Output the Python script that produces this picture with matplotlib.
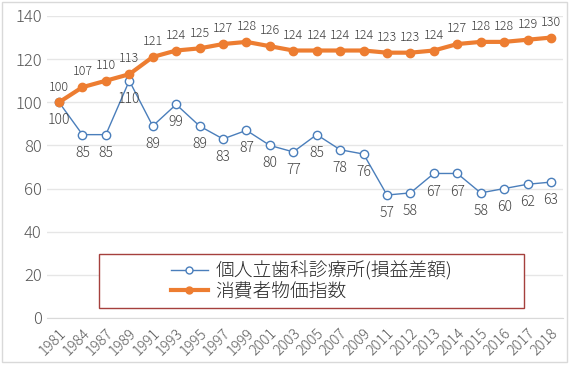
import matplotlib
matplotlib.use("Agg")
import matplotlib.pyplot as plt
from matplotlib.patches import Rectangle
from matplotlib.lines import Line2D

plt.rcParams['font.family'] = ['Noto Sans CJK JP', 'DejaVu Sans']
plt.rcParams['font.weight'] = 'light'

years = ["1981", "1984", "1987", "1989", "1991", "1993", "1995", "1997", "1999", "2001", "2003",
         "2005", "2007", "2009", "2011", "2012", "2013", "2014", "2015", "2016", "2017", "2018"]
dental = [100, 85, 85, 110, 89, 99, 89, 83, 87, 80, 77, 85, 78, 76, 57, 58, 67, 67, 58, 60, 62, 63]
cpi = [100, 107, 110, 113, 121, 124, 125, 127, 128, 126, 124, 124, 124, 124, 123, 123, 124, 127, 128, 128, 129, 130]
series_names = ["個人立歯科診療所(損益差額)", "消費者物価指数"]
yticks = [0, 20, 40, 60, 80, 100, 120, 140]

W, H = 571, 367
fig = plt.figure(figsize=(W / 100, H / 100), dpi=100)
fig.patch.set_facecolor("white")
fig.patches.append(Rectangle((2 / W, 1 - 362 / H), 565 / W, 360 / H, transform=fig.transFigure,
                             fill=False, edgecolor="#D9D9D9", linewidth=1.0))

ax = fig.add_axes([47.3 / W, 1 - 318 / H, (562.7 - 47.3) / W, (318 - 16) / H])
x = list(range(len(years)))
blue = "#4A7EBB"
orange = "#ED7D31"
ax.plot(x, dental, color=blue, linewidth=1.0, marker="o", markersize=6,
        markerfacecolor="white", markeredgecolor=blue, markeredgewidth=1.0, zorder=3)
ax.plot(x, cpi, color=orange, linewidth=3.0, marker="o", markersize=6,
        markerfacecolor=orange, markeredgecolor=orange, zorder=4)

for xi, v in zip(x, dental):
    ax.annotate(str(v), (xi, v), xytext=(0, -13), textcoords="offset points",
                ha="center", va="center", fontsize=10, color="#404040")
for xi, v in zip(x, cpi):
    ax.annotate(str(v), (xi, v), xytext=(0, 11), textcoords="offset points",
                ha="center", va="center", fontsize=9, color="#404040")

ax.set_xlim(-0.5, len(years) - 0.5)
ax.set_ylim(0, 140)
ax.set_yticks(yticks)
ax.set_yticklabels([str(t) for t in yticks], fontsize=12, color="#595959")
ax.set_xticks(x)
ax.set_xticklabels(years, rotation=45, ha="right", rotation_mode="anchor",
                   fontsize=10.5, color="#595959")
ax.tick_params(axis="both", length=0, pad=4)
ax.tick_params(axis="x", pad=6)
ax.grid(axis="y", color="#E6E6E6", linewidth=1.0)
ax.set_axisbelow(True)
for s in ["top", "right", "left"]:
    ax.spines[s].set_visible(False)
ax.spines["bottom"].set_color("#D9D9D9")

# legend frame
fig.patches.append(Rectangle((99 / W, 1 - 308 / H), (524 - 99) / W, (308 - 254) / H,
                             transform=fig.transFigure, fill=True, facecolor="white",
                             edgecolor="#A5403D", linewidth=1.0, zorder=5))
handles = [
    Line2D([], [], color=blue, linewidth=1.0, marker="o", markersize=5,
           markerfacecolor="white", markeredgecolor=blue),
    Line2D([], [], color=orange, linewidth=3.0, marker="o", markersize=5,
           markerfacecolor=orange, markeredgecolor=orange),
]
leg = fig.legend(handles, series_names, loc="center",
                 bbox_to_anchor=((99 + 524) / 2 / W, 1 - 281 / H),
                 frameon=False, fontsize=13.5, handlelength=2.0, handletextpad=0.4,
                 labelspacing=0.1, borderpad=0)
leg.set_zorder(6)
for t in leg.get_texts():
    t.set_color("#262626")

fig.savefig("out.png", dpi=100, facecolor="white")
